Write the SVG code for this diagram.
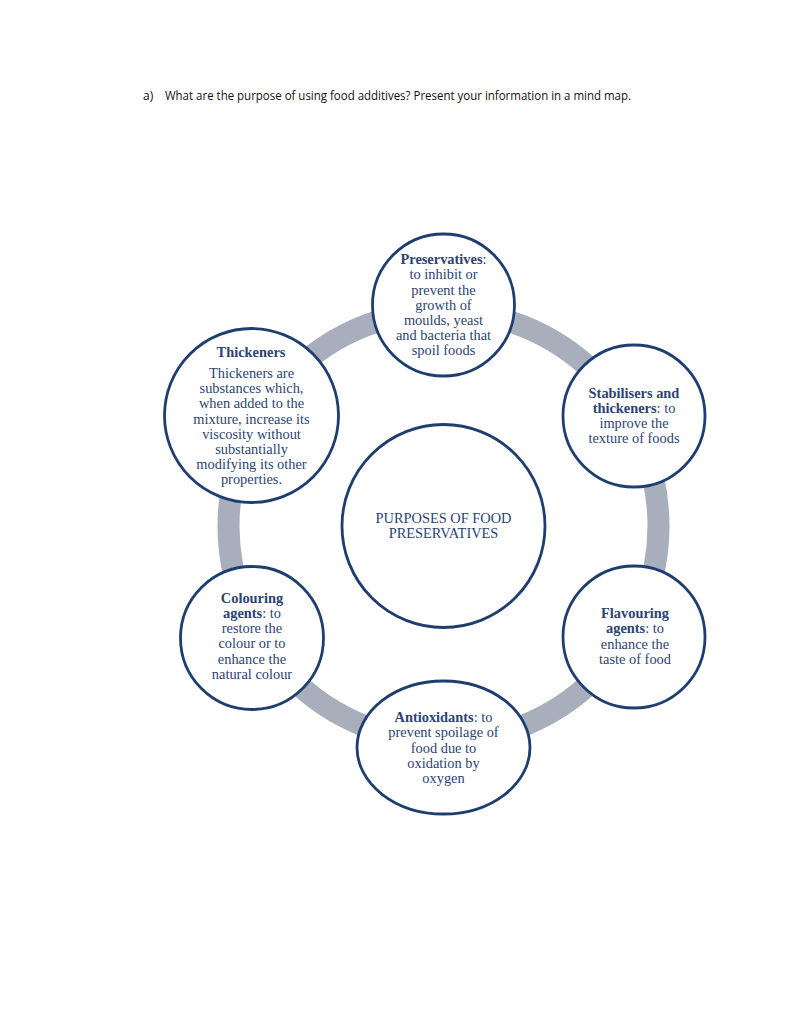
<svg xmlns="http://www.w3.org/2000/svg" width="791" height="1023" viewBox="0 0 791 1023">
<style>
.node{fill:#ffffff;stroke:#1f3e70;stroke-width:2.8}
.t{font-family:"Liberation Serif","Times New Roman",serif;font-size:14.4px;fill:#2c4472;text-anchor:middle}
.b{font-weight:bold}
.title{font-family:"Open Sans","Liberation Sans",Arial,sans-serif;font-size:12px;fill:#111111}
</style>
<rect width="791" height="1023" fill="#ffffff"/>
<text class="title" x="143" y="100">a)</text>
<text class="title" x="165" y="100" textLength="466" lengthAdjust="spacingAndGlyphs">What are the purpose of using food additives? Present your information in a mind map.</text>
<g id="connectors">
<circle cx="443.5" cy="526" r="215" fill="none" stroke="#a9aebd" stroke-width="22"/>
</g>
<g id="center">
<circle class="node" cx="443.5" cy="526" r="101.5"/>
<text class="t" x="443.5" y="523">PURPOSES OF FOOD</text>
<text class="t" x="443.5" y="538">PRESERVATIVES</text>
</g>
<g id="preservatives">
<circle class="node" cx="443.5" cy="305" r="71"/>
<text class="t" x="443.5" y="264"><tspan class="b">Preservatives</tspan>:</text>
<text class="t" x="443.5" y="279">to inhibit or</text>
<text class="t" x="443.5" y="294.5">prevent the</text>
<text class="t" x="443.5" y="309.5">growth of</text>
<text class="t" x="443.5" y="325">moulds, yeast</text>
<text class="t" x="443.5" y="340">and bacteria that</text>
<text class="t" x="443.5" y="355">spoil foods</text>
</g>
<g id="stabilisers">
<circle class="node" cx="634" cy="416" r="71"/>
<text class="t" x="634" y="397.5"><tspan class="b">Stabilisers and</tspan></text>
<text class="t" x="634" y="412.5"><tspan class="b">thickeners</tspan>: to</text>
<text class="t" x="634" y="427.5">improve the</text>
<text class="t" x="634" y="442.5">texture of foods</text>
</g>
<g id="flavouring">
<circle class="node" cx="634" cy="637" r="71"/>
<text class="t" x="635" y="618"><tspan class="b">Flavouring</tspan></text>
<text class="t" x="635" y="633"><tspan class="b">agents</tspan>: to</text>
<text class="t" x="635" y="648.5">enhance the</text>
<text class="t" x="635" y="664">taste of food</text>
</g>
<g id="antioxidants">
<ellipse class="node" cx="443.5" cy="747.5" rx="86.5" ry="66.5"/>
<text class="t" x="443.5" y="721.5"><tspan class="b">Antioxidants</tspan>: to</text>
<text class="t" x="443.5" y="737">prevent spoilage of</text>
<text class="t" x="443.5" y="752.5">food due to</text>
<text class="t" x="443.5" y="767.5">oxidation by</text>
<text class="t" x="443.5" y="783">oxygen</text>
</g>
<g id="colouring">
<circle class="node" cx="252" cy="638" r="71.5"/>
<text class="t" x="252" y="603"><tspan class="b">Colouring</tspan></text>
<text class="t" x="252" y="618"><tspan class="b">agents</tspan>: to</text>
<text class="t" x="252" y="633">restore the</text>
<text class="t" x="252" y="648">colour or to</text>
<text class="t" x="252" y="664">enhance the</text>
<text class="t" x="252" y="679">natural colour</text>
</g>
<g id="thickeners">
<circle class="node" cx="251.5" cy="415.5" r="87"/>
<text class="t b" x="251" y="357">Thickeners</text>
<text class="t" x="251.5" y="378">Thickeners are</text>
<text class="t" x="251.5" y="393">substances which,</text>
<text class="t" x="251.5" y="408">when added to the</text>
<text class="t" x="251.5" y="423.5">mixture, increase its</text>
<text class="t" x="251.5" y="438.5">viscosity without</text>
<text class="t" x="251.5" y="453.5">substantially</text>
<text class="t" x="251.5" y="468.5">modifying its other</text>
<text class="t" x="251.5" y="483.5">properties.</text>
</g>
</svg>
